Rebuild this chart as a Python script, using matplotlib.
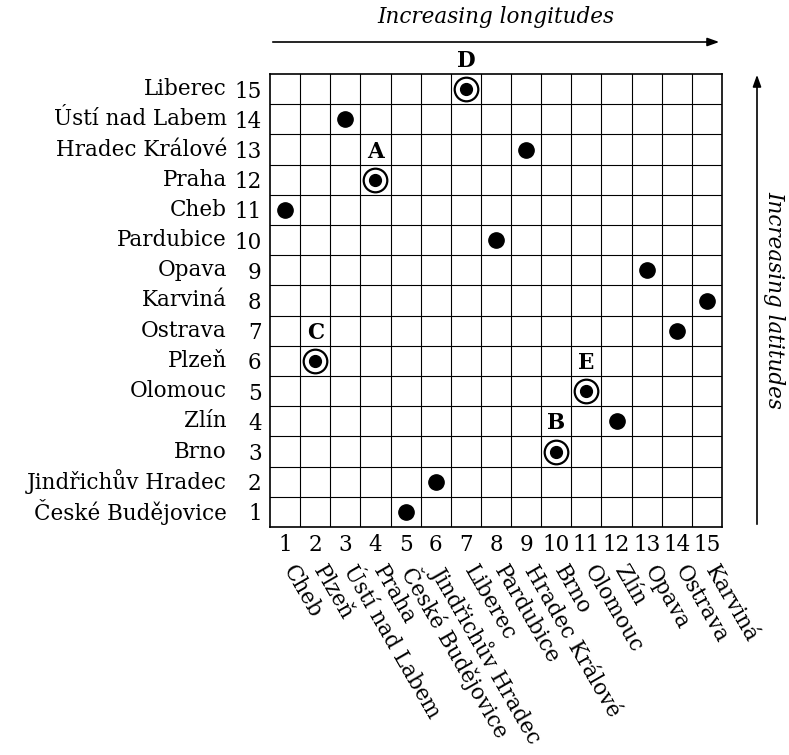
import matplotlib
matplotlib.use("Agg")
import matplotlib.pyplot as plt
import numpy as np

plt.rcParams['font.family'] = ['DejaVu Serif']

# cities ordered by latitude (rank 1..15) and their longitude rank
lat_names = ["České Budějovice", "Jindřichův Hradec", "Brno", "Zlín", "Olomouc",
             "Plzeň", "Ostrava", "Karviná", "Opava", "Pardubice", "Cheb", "Praha",
             "Hradec Králové", "Ústí nad Labem", "Liberec"]
lon_rank = [5, 6, 10, 12, 11, 2, 14, 15, 13, 8, 1, 4, 9, 3, 7]

# cities ordered by longitude (for the bottom labels)
lon_names = ["Cheb", "Plzeň", "Ústí nad Labem", "Praha", "České Budějovice",
             "Jindřichův Hradec", "Liberec", "Pardubice", "Hradec Králové", "Brno",
             "Olomouc", "Zlín", "Opava", "Ostrava", "Karviná"]

# highlighted cities and their letters
marked = {"Praha": "A", "Brno": "B", "Plzeň": "C", "Liberec": "D", "Olomouc": "E"}

lat_rank = list(range(1, 16))
n = 15
fs = 15.5

fig = plt.figure(figsize=(7.89, 7.55), dpi=100)
ax = fig.add_axes([270 / 789, (755 - 527) / 755, 452 / 789, 453 / 755])
ax.set_xlim(0.5, n + 0.5)
ax.set_ylim(0.5, n + 0.5)

# grid
for k in np.arange(1.5, n, 1.0):
    ax.axvline(k, color="black", lw=0.8)
    ax.axhline(k, color="black", lw=0.8)
for s in ax.spines.values():
    s.set_linewidth(1.2)

# points
for name, x, y in zip(lat_names, lon_rank, lat_rank):
    if name in marked:
        ax.plot(x, y, "o", ms=17, mfc="white", mec="black", mew=1.6, zorder=3)
        ax.plot(x, y, "o", ms=8.5, color="black", zorder=4)
        ax.text(x, y + 0.93, marked[name], ha="center", va="center",
                fontsize=fs, fontweight="bold", zorder=5)
    else:
        ax.plot(x, y, "o", ms=11, color="black", zorder=3)

# left labels: numbers as ticks, names further left
ax.set_yticks(lat_rank)
ax.set_yticklabels([str(v) for v in lat_rank], fontsize=fs)
ax.set_xticks(range(1, n + 1))
ax.set_xticklabels([str(v) for v in range(1, n + 1)], fontsize=fs)
ax.tick_params(axis="y", length=0, pad=6)
ax.tick_params(axis="x", length=0, pad=5)

for name, y in zip(lat_names, lat_rank):
    ax.annotate(name, xy=(0, y), xycoords=("axes fraction", "data"),
                xytext=(-31, 0), textcoords="offset points",
                ha="right", va="center", fontsize=fs)

for name, x in zip(lon_names, range(1, n + 1)):
    ax.annotate(name, xy=(x, 0), xycoords=("data", "axes fraction"),
                xytext=(9, -25), textcoords="offset points",
                ha="left", va="top", rotation=-60, rotation_mode="anchor",
                fontsize=fs)

# direction arrows
fig.patches.append(matplotlib.patches.FancyArrowPatch(
    (270 / 789, 1 - 42 / 755), (722 / 789, 1 - 42 / 755),
    transform=fig.transFigure, arrowstyle="-|>,head_length=7,head_width=2.5",
    color="black", lw=1.2, mutation_scale=1))
fig.text(496 / 789, 1 - 17 / 755, "Increasing longitudes", ha="center",
         va="center", fontsize=fs, style="italic")

fig.patches.append(matplotlib.patches.FancyArrowPatch(
    (757 / 789, 1 - 527 / 755), (757 / 789, 1 - 72 / 755),
    transform=fig.transFigure, arrowstyle="-|>,head_length=7,head_width=2.5",
    color="black", lw=1.2, mutation_scale=1))
fig.text(774 / 789, 1 - 300 / 755, "Increasing latitudes", ha="center",
         va="center", fontsize=fs, style="italic", rotation=-90)

fig.savefig("out.png", dpi=100)
